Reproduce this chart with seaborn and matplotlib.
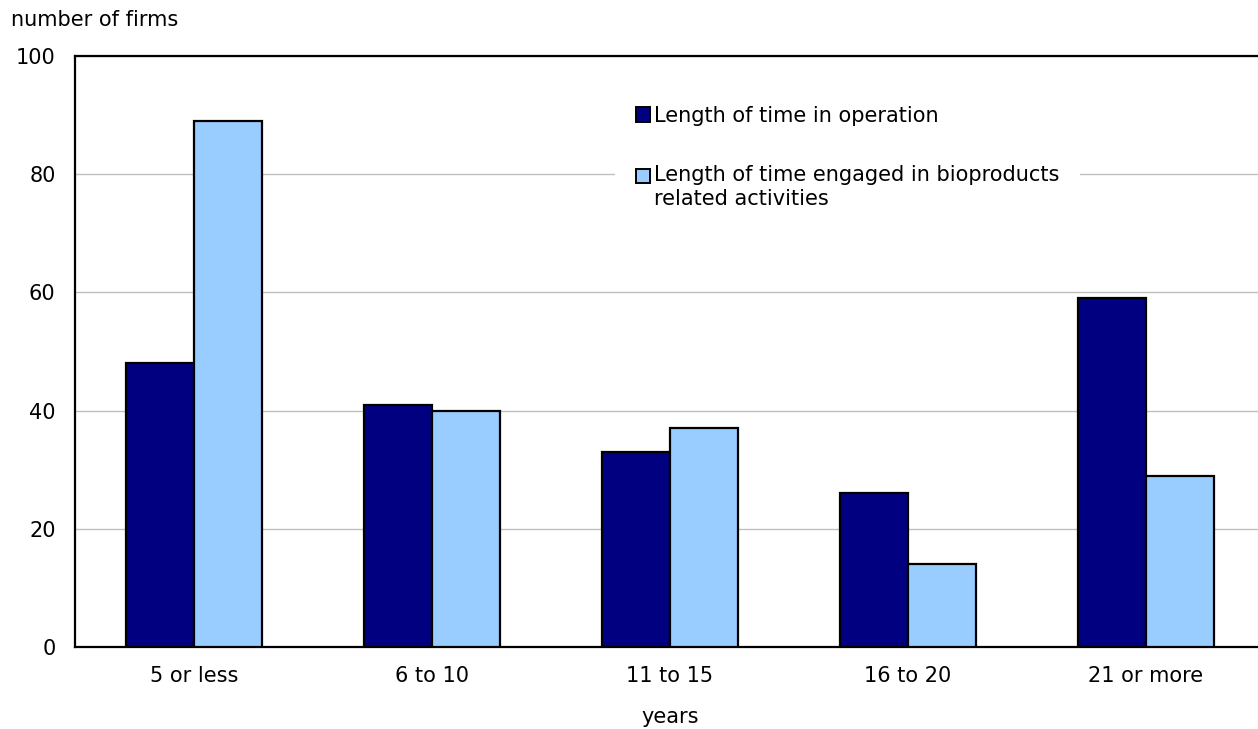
import matplotlib
matplotlib.use("Agg")
import matplotlib.pyplot as plt
import seaborn as sns
import pandas as pd
from matplotlib.ticker import FixedLocator

categories = ["5 or less", "6 to 10", "11 to 15", "16 to 20", "21 or more"]
series_names = ["Length of time in operation",
                "Length of time engaged in bioproducts\nrelated activities"]
operation = [48, 41, 33, 26, 59]
bioproducts = [89, 40, 37, 14, 29]
y_ticks = [0, 20, 40, 60, 80, 100]

colors = ["#000080", "#99ccff"]

df = pd.DataFrame({
    "years": categories * 2,
    "firms": operation + bioproducts,
    "series": [series_names[0]] * len(categories) + [series_names[1]] * len(categories),
})

sns.set_theme(style="white")
plt.rcParams["font.family"] = ["DejaVu Sans"]
plt.rcParams["text.color"] = "black"

FS = 15

fig = plt.figure(figsize=(12.58, 7.29), dpi=100)
ax = fig.add_axes([0.0596, 0.1125, 0.9460, 0.8107])

sns.barplot(data=df, x="years", y="firms", hue="series", palette=colors,
            width=0.571, gap=0, edgecolor="black", linewidth=1.6,
            saturation=1, ax=ax, zorder=3)

ax.set_xlim(-0.5, 4.5)
ax.set_ylim(0, 100)
ax.set_yticks(y_ticks)
ax.yaxis.grid(True, color="#c0c0c0", linewidth=1, zorder=0)
ax.set_axisbelow(True)

for side in ["left", "top", "bottom"]:
    ax.spines[side].set_visible(True)
    ax.spines[side].set_color("black")
    ax.spines[side].set_linewidth(1.6)
ax.spines["right"].set_visible(False)

ax.tick_params(axis="both", which="major", length=0, labelsize=FS, colors="black")
ax.tick_params(axis="y", which="major", pad=14)
ax.tick_params(axis="x", which="major", pad=14)
ax.xaxis.set_minor_locator(FixedLocator([0.5, 1.5, 2.5, 3.5]))
ax.tick_params(axis="x", which="minor", direction="in", length=6, width=1, color="#888888")

ax.set_xlabel("years", fontsize=FS, labelpad=15, color="black")
ax.set_ylabel("")
fig.text(0.009, 0.972, "number of firms", fontsize=FS, ha="left", va="center", color="black")

leg = ax.legend(loc="upper left", bbox_to_anchor=(0.4889, 0.8834), bbox_transform=fig.transFigure,
                fontsize=FS, frameon=True, facecolor="white", edgecolor="none", framealpha=1,
                handlelength=0.7, handleheight=0.7, handletextpad=0.15,
                labelspacing=1.9, borderpad=1.0, borderaxespad=0)
for h in leg.legend_handles:
    h.set_edgecolor("black")
    h.set_linewidth(1.4)
# align the second swatch with the first line of its two-line label
leg.legend_handles[1].set_y(leg.legend_handles[1].get_y() + 8.5)
for t in leg.get_texts():
    t.set_color("black")

fig.savefig("out.png", dpi=100)
